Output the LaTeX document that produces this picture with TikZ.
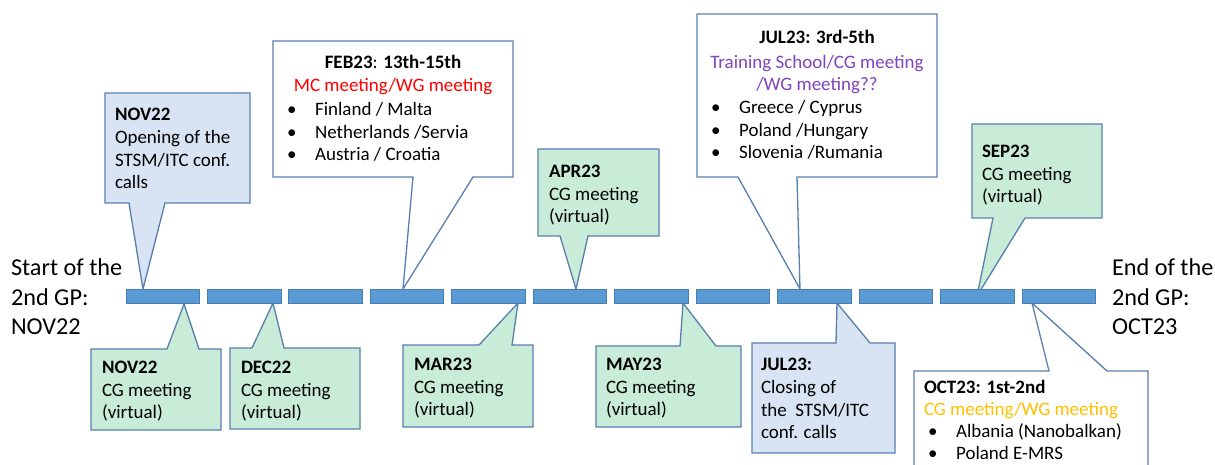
\documentclass[tikz,border=0pt]{standalone}
\usepackage{fontspec}
\setmainfont{Carlito}

\definecolor{segblue}{RGB}{91,155,213}
\definecolor{segline}{RGB}{72,125,180}
\definecolor{calline}{RGB}{88,128,175}
\definecolor{calblue}{RGB}{216,228,243}
\definecolor{calgreen}{RGB}{200,236,216}
\definecolor{mcred}{RGB}{255,0,0}
\definecolor{tspurple}{RGB}{128,68,188}
\definecolor{cgorange}{RGB}{255,192,0}

\newcommand{\bul}{\makebox[16pt][l]{\textbullet}}

\begin{document}
\begin{tikzpicture}
[x=0.02cm,y=-0.02cm,
 every node/.style={inner sep=0pt,outer sep=0pt,font=\fontsize{10.8}{13}\selectfont},
 seg/.style={rectangle,draw=segline,line width=0.5pt,fill=segblue,minimum width=1.47cm,minimum height=0.28cm},
 call/.style={draw=calline,line width=0.75pt,line join=miter},
 callb/.style={call,fill=calblue},
 callg/.style={call,fill=calgreen},
 callw/.style={call,fill=white},
 txt/.style={anchor=base west,align=left},
 ctxt/.style={anchor=base,align=center},
 side/.style={anchor=base west,align=left,font=\fontsize{13.8}{17}\selectfont}]
\useasboundingbox (0,0) rectangle (1215,465);
\clip (0,0) rectangle (1215,465);

% callouts above the line
\draw[callb] (105,93) -- (250,93) -- (250,203) -- (165,203) -- (143,289) -- (129,203) -- (105,203) -- cycle;
\draw[callw] (273,41) -- (513,41) -- (513,177) -- (473,177) -- (403,289) -- (413,177) -- (273,177) -- cycle;
\draw[callg] (538,149) -- (659,149) -- (659,236) -- (588,236) -- (576,289) -- (560,236) -- (538,236) -- cycle;
\draw[callw] (697,14) -- (937,14) -- (937,177) -- (797,177) -- (800,289) -- (738,177) -- (697,177) -- cycle;
\draw[callg] (972,124) -- (1102,124) -- (1102,218) -- (1025,218) -- (977,296) -- (993,218) -- (972,218) -- cycle;

% callouts below the line
\draw[callg] (91,349) -- (167,349) -- (184,304) -- (199,349) -- (221,349) -- (221,430) -- (91,430) -- cycle;
\draw[callg] (230,348) -- (252,348) -- (273,303) -- (284,348) -- (360,348) -- (360,429) -- (230,429) -- cycle;
\draw[callg] (403,345) -- (479,345) -- (518,303) -- (512,345) -- (533,345) -- (533,427) -- (403,427) -- cycle;
\draw[callg] (596,346) -- (680,346) -- (683,303) -- (716,346) -- (741,346) -- (741,427) -- (596,427) -- cycle;
\draw[callb] (752,343) -- (836,343) -- (837,303) -- (870,343) -- (895,343) -- (895,453) -- (752,453) -- cycle;
\draw[callw] (914,371) -- (1049,371) -- (1032,303) -- (1107,371) -- (1148,371) -- (1148,485) -- (914,485) -- cycle;

% time line
\foreach \i in {0,...,11}
  \node[seg] (s\i) at (162.75+81.45*\i,296) {};

% multi-line nodes sit on the baseline of their last line
\node[side] (start) at (11,335) {Start of the\\2nd GP:\\NOV22};
\node[side] (end)   at (1112,335) {End of the\\2nd GP:\\OCT23};

% texts
\node[txt] (nov22a) at (115,189) {\textbf{NOV22}\\Opening of the\\STSM/ITC conf.\\calls};
\node[ctxt] (feb23)  at (393,69) {\textbf{FEB23}: \textbf{13th-15th}};
\node[ctxt,text=mcred] (feb23m) at (393,92) {MC meeting/WG meeting};
\node[txt] (feb23c) at (287,161) {\bul Finland / Malta\\\bul Netherlands /Servia\\\bul Austria / Croatia};
\node[txt] (apr23)  at (549,223) {\textbf{APR23}\\CG meeting\\(virtual)};
\node[ctxt] (jul23a) at (817,44) {\textbf{JUL23: 3rd-5th}};
\node[ctxt,text=tspurple] (jul23m) at (817,91) {Training School/CG meeting\\/WG meeting??};
\node[txt] (jul23c) at (711,159) {\bul Greece / Cyprus\\\bul Poland /Hungary\\\bul Slovenia /Rumania};
\node[txt] (sep23)  at (982,203) {\textbf{SEP23}\\CG meeting\\(virtual)};

\node[txt] (nov22b) at (102,419) {\textbf{NOV22}\\CG meeting\\(virtual)};
\node[txt] (dec22)  at (241,419) {\textbf{DEC22}\\CG meeting\\(virtual)};
\node[txt] (mar23)  at (414,416) {\textbf{MAR23}\\CG meeting\\(virtual)};
\node[txt] (may23)  at (606,416) {\textbf{MAY23}\\CG meeting\\(virtual)};
\node[txt] (jul23b) at (761,439) {\textbf{JUL23:}\\Closing of\\the~~STSM/ITC\\conf. calls};
\node[txt] (oct23)  at (924,416) {\textbf{OCT23: 1st-2nd}\\\textcolor{cgorange}{CG meeting/WG meeting}};
\node[txt] (oct23c) at (928,460) {\bul Albania (Nanobalkan)\\\bul Poland E-MRS};
\end{tikzpicture}
\end{document}
